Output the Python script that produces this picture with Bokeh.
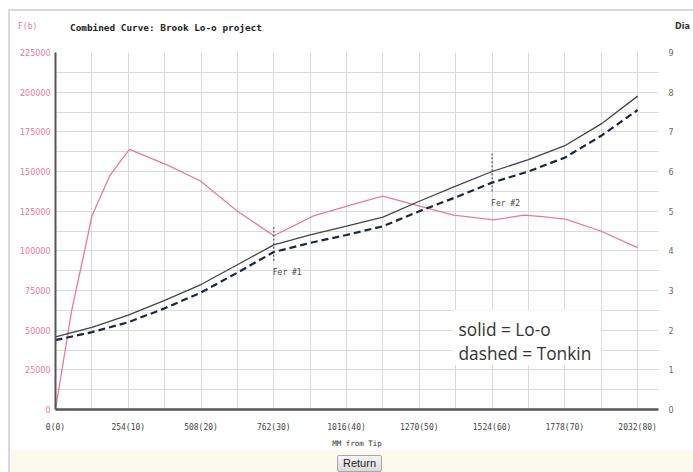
from bokeh.plotting import figure
from bokeh.models import Range1d, LinearAxis, Label, FixedTicker, Div, ColumnDataSource, BoxAnnotation
from bokeh.layouts import column
from bokeh.core.properties import value
from bokeh.embed import file_html
from bokeh.resources import INLINE

# ---------------- data ----------------
positions_mm = [0, 127, 254, 381, 508, 635, 762, 889, 1016, 1143, 1270, 1397, 1524, 1651, 1778, 1905, 2032]
solid_lo_o = [1.83, 2.07, 2.38, 2.75, 3.15, 3.65, 4.15, 4.40, 4.62, 4.85, 5.25, 5.63, 6.00, 6.30, 6.65, 7.20, 7.90]
dashed_tonkin = [1.75, 1.95, 2.20, 2.55, 2.95, 3.45, 3.97, 4.20, 4.40, 4.62, 5.00, 5.35, 5.72, 6.00, 6.35, 6.90, 7.55]

fb_mm = [0, 56, 112, 127, 190, 258, 391, 506, 635, 762, 901, 1030, 1142, 1274, 1390, 1530, 1635, 1700, 1780, 1903, 2032]
fb_values = [0, 62000, 108750, 122000, 147500, 164000, 154000, 144000, 125000, 109500, 122000, 128750,
             134500, 128000, 122500, 119500, 122500, 121500, 120000, 112500, 102000]

ferrule_mm = [762, 1524]
ferrule_names = ["Fer #1", "Fer #2"]

x_ticks = [0, 254, 508, 762, 1016, 1270, 1524, 1778, 2032]
x_tick_labels = ["0(0)", "254(10)", "508(20)", "762(30)", "1016(40)", "1270(50)", "1524(60)", "1778(70)", "2032(80)"]
x_minor = [127, 381, 635, 889, 1143, 1397, 1651, 1905]
fb_ticks = [0, 25000, 50000, 75000, 100000, 125000, 150000, 175000, 200000, 225000]
fb_minor = [12500 * i for i in range(19)]
dia_ticks = [0, 1, 2, 3, 4, 5, 6, 7, 8, 9]

title_text = "Combined Curve: Brook Lo-o project"
left_label = "F(b)"
right_label = "Dia"
x_label = "MM from Tip"
legend_lines = ["solid = Lo-o", "dashed = Tonkin"]
button_text = "Return"

# ---------------- styling ----------------
PINK = "#e77a9c"
GRID = "#dadada"
AXIS = "#555555"
MONO = "DejaVu Sans Mono"
W = 683

header = Div(
    text=(f'<div style="position:relative;width:{W}px;height:36px;overflow:hidden;background:#ffffff;">'
          f'<span style="position:absolute;left:8px;top:11px;font:8px \'{MONO}\';color:{PINK};white-space:nowrap;">{left_label}</span>'
          f'<span style="position:absolute;left:60px;top:11px;font:bold 9.4px \'{MONO}\';color:#222;white-space:nowrap;">{title_text}</span>'
          f'<span style="position:absolute;left:665px;top:11px;font:bold 8px \'DejaVu Sans\';color:#333;white-space:nowrap;">{right_label}</span>'
          '</div>'),
    width=W, height=36, styles={"margin": "0", "overflow": "hidden"})

p = figure(width=W, height=403, x_range=Range1d(0, 2105), y_range=Range1d(0, 225000),
           output_backend="svg", toolbar_location=None,
           min_border_left=45, min_border_right=35, min_border_top=5, min_border_bottom=37)
p.extra_y_ranges = {"dia": Range1d(0, 9)}
p.outline_line_color = None
p.background_fill_color = "white"
p.border_fill_color = "white"

# x axis
p.xaxis.ticker = FixedTicker(ticks=x_ticks, minor_ticks=x_minor)
p.xaxis.major_label_overrides = {t: l for t, l in zip(x_ticks, x_tick_labels)}
p.xaxis.major_label_text_font = MONO
p.xaxis.major_label_text_font_size = "8px"
p.xaxis.major_label_text_color = "#444444"
p.xaxis.major_label_standoff = 13
p.xaxis.major_tick_line_color = None
p.xaxis.minor_tick_line_color = None
p.xaxis.major_tick_out = 0
p.xaxis.major_tick_in = 0
p.xaxis.minor_tick_out = 0
p.xaxis.axis_line_color = AXIS
p.xaxis.axis_line_width = 2.5
p.xaxis.axis_label = x_label
p.xaxis.axis_label_text_font = MONO
p.xaxis.axis_label_text_font_size = "7.5px"
p.xaxis.axis_label_text_font_style = "normal"
p.xaxis.axis_label_text_color = "#333333"
p.xaxis.axis_label_standoff = 4

# left axis
p.yaxis.ticker = FixedTicker(ticks=fb_ticks, minor_ticks=fb_minor)
p.yaxis.major_label_text_font = "DejaVu Sans"
p.yaxis.major_label_text_font_size = "8px"
p.yaxis.major_label_text_color = PINK
p.yaxis.major_label_standoff = 5
p.yaxis.major_tick_line_color = None
p.yaxis.minor_tick_line_color = None
p.yaxis.major_tick_out = 0
p.yaxis.major_tick_in = 0
p.yaxis.minor_tick_out = 0
p.yaxis.axis_line_color = AXIS
p.yaxis.axis_line_width = 2
p.yaxis.formatter.use_scientific = False

# right axis
ra = LinearAxis(y_range_name="dia", ticker=FixedTicker(ticks=dia_ticks))
ra.axis_line_color = None
ra.major_tick_line_color = None
ra.minor_tick_line_color = None
ra.major_tick_out = 0
ra.major_tick_in = 0
ra.minor_tick_out = 0
ra.major_label_text_font = "DejaVu Sans"
ra.major_label_text_font_size = "8px"
ra.major_label_text_color = "#666666"
ra.major_label_standoff = 10
p.add_layout(ra, "right")

# grids
for g in (p.xgrid, p.ygrid):
    g.grid_line_color = GRID
    g.minor_grid_line_color = GRID
    g.grid_line_width = 1
    g.minor_grid_line_width = 1

# series
p.line(fb_mm, fb_values, line_color=PINK, line_width=1.3)
p.line(positions_mm, solid_lo_o, y_range_name="dia", line_color="#444444", line_width=1.3)
p.line(positions_mm, dashed_tonkin, y_range_name="dia", line_color="#1c2640", line_width=2.2, line_dash="7 4")

# ferrule markers
fer_solid = [solid_lo_o[positions_mm.index(f)] for f in ferrule_mm]
fer_dash = [dashed_tonkin[positions_mm.index(f)] for f in ferrule_mm]
fer_src = ColumnDataSource(dict(
    x=ferrule_mm,
    top=[s + 0.45 for s in fer_solid],
    bottom=[d - 0.22 for d in fer_dash],
    label_y=[d - 0.52 for d in fer_dash],
    name=ferrule_names,
))
p.segment(x0="x", x1="x", y0="bottom", y1="top", source=fer_src, y_range_name="dia",
          line_color="#333333", line_width=1, line_dash="2 2")
p.text(x="x", y="label_y", text="name", source=fer_src, y_range_name="dia",
       text_font=value(MONO), text_font_size="8px", text_color="#444444",
       text_baseline="middle", text_align="left", x_offset=-1)

# legend box
p.add_layout(BoxAnnotation(left=1386, right=1905, bottom=28000, top=62500,
                           fill_color="white", fill_alpha=1, line_color=None))
p.add_layout(Label(x=1407, y=50500, text=legend_lines[0], text_font="Open Sans",
                   text_font_size="17.3px", text_color="#333333", text_baseline="middle"))
p.add_layout(Label(x=1407, y=35500, text=legend_lines[1], text_font="Open Sans",
                   text_font_size="17.3px", text_color="#333333", text_baseline="middle"))

footer = Div(
    text=(f'<div style="position:relative;width:{W}px;height:22px;background:#fdf9ee;">'
          '<span style="position:absolute;left:327px;top:5px;font:11px \'Liberation Sans\',Arial,sans-serif;color:#222;'
          'background:linear-gradient(#f6f6f6,#dadada);border:1px solid #a8a8a8;border-radius:2px;'
          f'padding:1px 5px;line-height:13px;white-space:nowrap;">{button_text}</span></div>'),
    width=W, height=22, styles={"margin": "0", "background-color": "#fdf9ee"})

layout = column(header, p, footer, spacing=0,
                styles={"margin-left": "8px", "margin-top": "9px",
                        "border-left": "2px solid #d9d9d9", "border-top": "2px solid #d9d9d9"})

open("out.html", "w").write(file_html(layout, INLINE))
